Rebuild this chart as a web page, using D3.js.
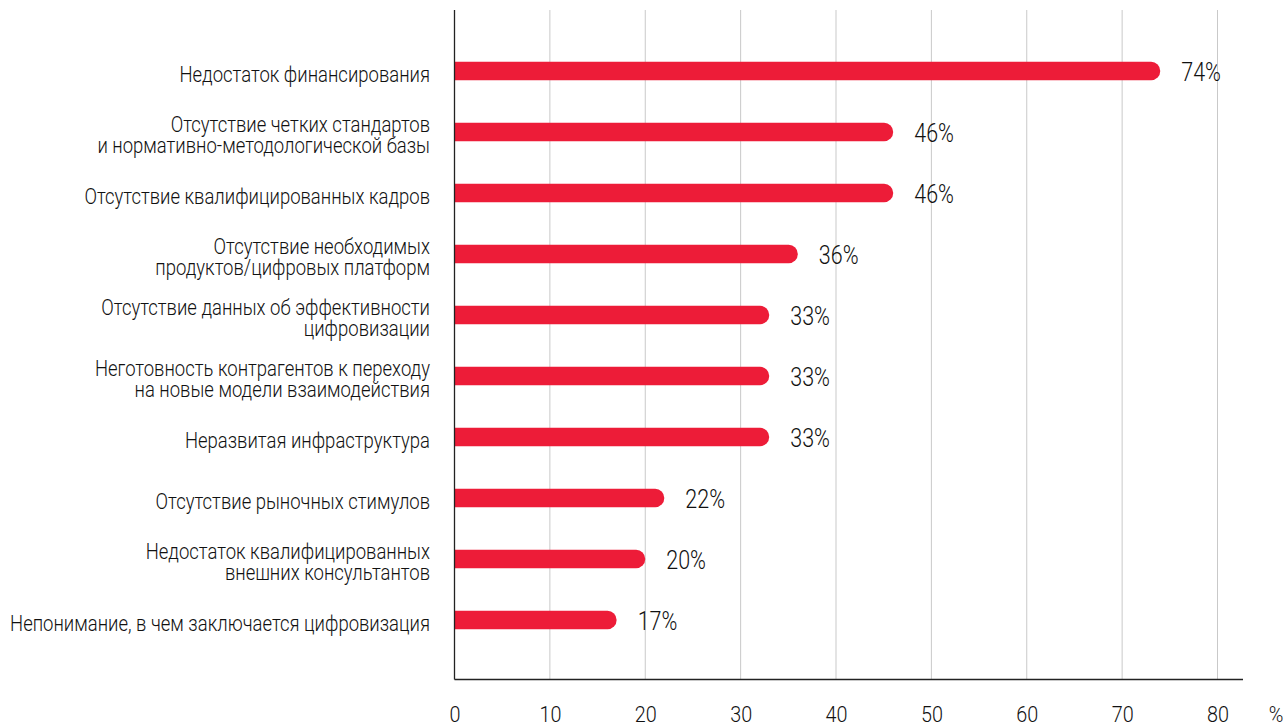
<!DOCTYPE html>
<html>
<head>
<meta charset="utf-8">
<script src="https://cdn.jsdelivr.net/npm/d3@7"></script>
<style>
  html, body { margin: 0; padding: 0; background: #fff; }
  svg { display: block; }
  .lbl { font-family: "Roboto", "Noto Sans", sans-serif; font-weight: 300; fill: #111; }
</style>
</head>
<body>
<svg id="chart" width="1286" height="726"></svg>
<script>
// Barriers to digitalisation, share of respondents (%)
const categories = [
  ["Недостаток финансирования"],
  ["Отсутствие четких стандартов", "и нормативно-методологической базы"],
  ["Отсутствие квалифицированных кадров"],
  ["Отсутствие необходимых", "продуктов/цифровых платформ"],
  ["Отсутствие данных об эффективности", "цифровизации"],
  ["Неготовность контрагентов к переходу", "на новые модели взаимодействия"],
  ["Неразвитая инфраструктура"],
  ["Отсутствие рыночных стимулов"],
  ["Недостаток квалифицированных", "внешних консультантов"],
  ["Непонимание, в чем заключается цифровизация"]
];
const values = [74, 46, 46, 36, 33, 33, 33, 22, 20, 17];
const xTicks = [0, 10, 20, 30, 40, 50, 60, 70, 80];
const unitLabel = "%";

// narrow look: text is squeezed horizontally around its anchor point
const SX = 0.9;
const SX_CAT = 0.86;

const svg = d3.select("#chart");
const plotLeft = 454.5, plotRight = 1217.5, plotTop = 10, plotBottom = 679.5;

const x = d3.scaleLinear().domain([0, 80]).range([plotLeft, plotRight]);
const y = d3.scaleBand()
  .domain(d3.range(categories.length))
  .range([40.5, 650.5])
  .paddingInner(0.7)
  .paddingOuter(0.35);

// vertical gridlines
svg.append("g")
  .selectAll("line")
  .data(xTicks.filter(t => t > 0))
  .join("line")
  .attr("x1", d => x(d)).attr("x2", d => x(d))
  .attr("y1", plotTop).attr("y2", plotBottom)
  .attr("stroke", "#c9c9c9").attr("stroke-width", 1);

// bottom axis: labels only, line drawn separately
const xAxis = d3.axisBottom(x).tickValues(xTicks).tickSize(0);
const gx = svg.append("g").attr("transform", `translate(0,${plotBottom})`).call(xAxis);
gx.select(".domain").remove();
gx.selectAll(".tick text")
  .attr("class", "lbl")
  .attr("y", 0).attr("dy", null)
  .attr("transform", `translate(0,42.5) scale(${SX},1)`)
  .attr("fill", "#111")
  .attr("font-family", null).attr("font-size", null)
  .style("font-size", "22px");
svg.append("line")
  .attr("x1", plotLeft).attr("x2", 1243)
  .attr("y1", plotBottom).attr("y2", plotBottom)
  .attr("stroke", "#222").attr("stroke-width", 1.3);
svg.append("text")
  .attr("class", "lbl")
  .attr("text-anchor", "middle")
  .attr("transform", `translate(1276,${plotBottom + 42.5}) scale(${SX},1)`)
  .style("font-size", "22px")
  .text(unitLabel);

// bars: square at the axis, rounded at the end
const bh = y.bandwidth();
svg.append("g")
  .selectAll("path")
  .data(values)
  .join("path")
  .attr("fill", "#ed1c38")
  .attr("d", (d, i) => {
    const y0 = y(i), x0 = x(0), x1 = x(d), r = bh / 2;
    return `M${x0},${y0}H${x1 - r}A${r},${r} 0 0 1 ${x1 - r},${y0 + bh}H${x0}Z`;
  });

// value labels
svg.append("g")
  .selectAll("text")
  .data(values)
  .join("text")
  .attr("class", "lbl")
  .attr("transform", (d, i) => `translate(${x(d) + 21},${y(i) + bh / 2 + 10}) scale(0.86,1)`)
  .style("font-size", "25px")
  .text(d => d + "%");

// category labels, right aligned
const cl = svg.append("g")
  .selectAll("text")
  .data(categories)
  .join("text")
  .attr("class", "lbl")
  .attr("text-anchor", "end")
  .style("font-size", "21.5px")
  .attr("transform", (d, i) => `translate(430,${y(i) + bh / 2 + 10.8}) scale(${SX_CAT},1)`);
cl.selectAll("tspan")
  .data(d => d.map((t, k) => ({ t, k, n: d.length })))
  .join("tspan")
  .attr("x", 0)
  .attr("y", d => (d.k - (d.n - 1) / 2) * 21)
  .text(d => d.t);

// vertical axis line
svg.append("line")
  .attr("x1", plotLeft).attr("x2", plotLeft)
  .attr("y1", plotTop).attr("y2", plotBottom)
  .attr("stroke", "#222").attr("stroke-width", 1.3);
</script>
</body>
</html>
